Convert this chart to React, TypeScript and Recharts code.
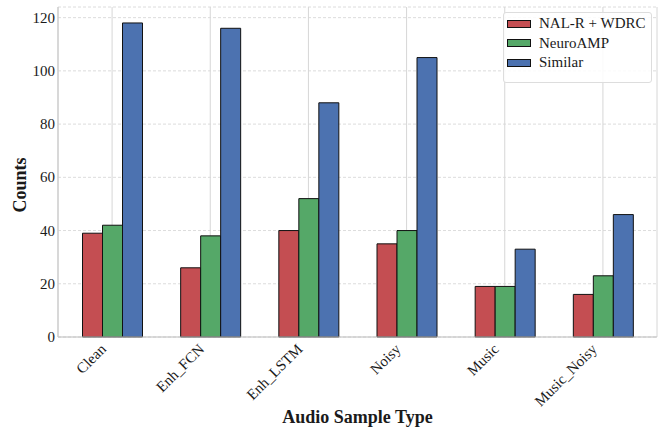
import React from "react"
import { Bar, BarChart, CartesianGrid, XAxis, YAxis } from "recharts"

const categories = ["Clean", "Enh_FCN", "Enh_LSTM", "Noisy", "Music", "Music_Noisy"]
const nalWdrc = [39, 26, 40, 35, 19, 16]
const neuroAmp = [42, 38, 52, 40, 19, 23]
const similar = [118, 116, 88, 105, 33, 46]
const yTicks = [0, 20, 40, 60, 80, 100, 120]

const series = [
  { key: "nal", name: "NAL-R + WDRC", color: "#C44E52" },
  { key: "neuro", name: "NeuroAMP", color: "#55A868" },
  { key: "similar", name: "Similar", color: "#4C72B0" },
]

const data = categories.map((name, i) => ({
  name,
  nal: nalWdrc[i],
  neuro: neuroAmp[i],
  similar: similar[i],
}))

const FONT = "Liberation Serif"

// rotated category labels, right end anchored just below the tick
function AngledTick({ x, y, payload }: any) {
  const tx = x - 5
  const ty = y + 5
  return (
    <text
      x={tx}
      y={ty}
      transform={`rotate(-45 ${tx} ${ty})`}
      textAnchor="end"
      fontSize={15}
      fontFamily={FONT}
      fill="#1a1a1a"
    >
      {payload.value}
    </text>
  )
}

function CountTick({ x, y, payload }: any) {
  return (
    <text x={x + 3} y={y} dy={5} textAnchor="end" fontSize={15} fontFamily={FONT} fill="#1a1a1a">
      {payload.value}
    </text>
  )
}

function CountsLabel({ viewBox }: any) {
  const cx = 20
  const cy = viewBox.y + viewBox.height / 2 + 13
  return (
    <text
      x={cx}
      y={cy}
      transform={`rotate(-90 ${cx} ${cy})`}
      textAnchor="middle"
      dominantBaseline="central"
      fontSize={18}
      fontWeight="bold"
      fontFamily={FONT}
      fill="#1a1a1a"
    >
      Counts
    </text>
  )
}

function LegendBox() {
  return (
    <div
      style={{
        position: "absolute",
        left: 503,
        top: 12,
        width: 147,
        height: 68,
        border: "1px solid #ddd",
        borderRadius: 3,
        background: "rgba(255,255,255,0.85)",
        fontFamily: FONT,
        fontSize: 15,
        color: "#1a1a1a",
        paddingTop: 1,
      }}
    >
      {series.map((s) => (
        <div key={s.key} style={{ display: "flex", alignItems: "center", height: 19.5, marginLeft: 3 }}>
          <span
            style={{
              display: "inline-block",
              width: 22,
              height: 6,
              background: s.color,
              border: "1px solid #111",
              marginRight: 8,
            }}
          />
          <span>{s.name}</span>
        </div>
      ))}
    </div>
  )
}

export default function App() {
  return (
    <div style={{ position: "absolute", left: 0, top: 0, width: 662, height: 431, background: "#fff", fontFamily: FONT }}>
      <BarChart
        width={662}
        height={431}
        data={data}
        margin={{ top: 7, right: 5, left: 0, bottom: 0 }}
        barCategoryGap={19.5}
        barGap={0}
      >
        <CartesianGrid vertical={false} stroke="#dcdcdc" strokeDasharray="3 2" />
        <CartesianGrid horizontal={false} stroke="#d6d6d6" />
        <XAxis
          dataKey="name"
          height={94}
          padding={{ left: 5, right: 5 }}
          tick={<AngledTick />}
          tickLine={false}
          axisLine={{ stroke: "#bbb", strokeWidth: 1.2 }}
          interval={0}
          label={{
            value: "Audio Sample Type",
            position: "insideBottom",
            offset: 8,
            fontSize: 18,
            fontWeight: "bold",
            fill: "#1a1a1a",
            fontFamily: FONT,
          }}
        />
        <XAxis xAxisId="top" orientation="top" height={0} tick={false} tickLine={false} axisLine={{ stroke: "#ccc" }} />
        <YAxis
          width={58}
          domain={[0, 124]}
          ticks={yTicks}
          tickLine={false}
          tickSize={0}
          tickMargin={6}
          axisLine={{ stroke: "#ccc", strokeWidth: 1.2 }}
          tick={<CountTick />}
          label={<CountsLabel />}
        />
        <YAxis yAxisId="right" orientation="right" width={0} tick={false} tickLine={false} axisLine={{ stroke: "#ccc" }} />
        {series.map((s) => (
          <Bar
            key={s.key}
            dataKey={s.key}
            name={s.name}
            fill={s.color}
            stroke="#111"
            strokeWidth={1}
            isAnimationActive={false}
          />
        ))}
      </BarChart>
      <LegendBox />
    </div>
  )
}
